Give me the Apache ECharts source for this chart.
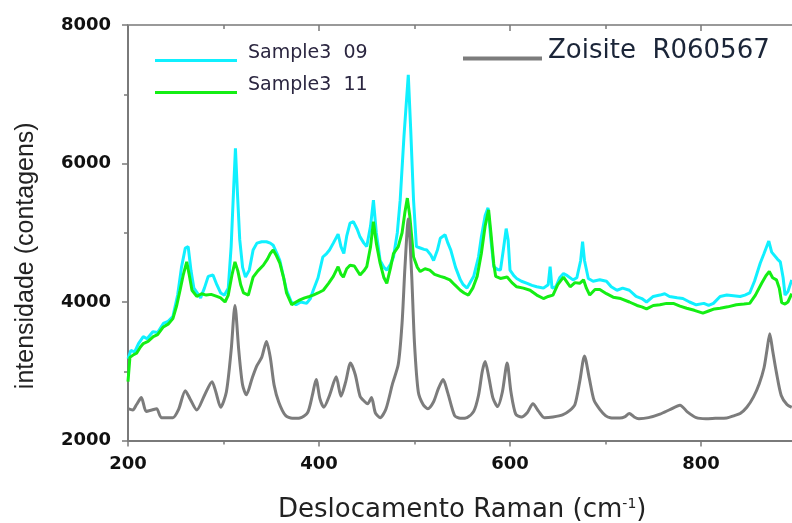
<!DOCTYPE html>
<html>
<head>
<meta charset="utf-8">
<script src="https://cdn.jsdelivr.net/npm/echarts@6/dist/echarts.min.js"></script>
<style>html,body{margin:0;padding:0;background:#fff;}#c{width:792px;height:523px;}</style>
</head>
<body>
<div id="c"></div>
<script>
var xTicks = [200, 400, 600, 800];
var yTicks = [2000, 4000, 6000, 8000];
var seriesNames = ['Sample3  09', 'Sample3  11', 'Zoisite  R060567'];

var sample09 = [[200,3180],[203,3300],[207,3280],[211,3400],[216,3500],[220,3470],[226,3570],[231,3560],[237,3690],[242,3720],[247,3790],[252,4100],[256,4500],[260,4780],[263,4800],[266,4450],[269,4200],[273,4120],[276,4060],[280,4200],[284,4370],[289,4390],[293,4250],[297,4130],[301,4100],[305,4200],[308,4800],[310.5,5600],[312.5,6220],[314.5,5600],[317,4900],[320,4500],[323,4360],[327,4460],[331,4750],[335,4850],[340,4870],[345,4870],[349,4850],[352,4820],[356,4700],[359,4600],[363,4350],[366,4170],[371,4000],[376,3960],[381,4000],[387,3980],[391,4050],[394,4170],[399,4350],[404,4650],[408,4700],[411,4750],[415,4850],[420,4980],[423,4800],[426,4700],[429,4950],[432.5,5140],[436,5160],[440,5050],[443,4940],[447,4850],[450,4800],[454,5100],[457,5470],[460,5000],[464,4600],[468,4500],[471,4460],[475,4550],[478,4650],[482,5000],[485,5470],[489,6400],[493.5,7280],[496,6500],[499,5470],[502,4800],[506,4780],[510,4760],[513,4750],[517,4680],[520,4600],[524,4750],[527,4920],[532,4970],[535,4850],[538,4750],[543,4500],[548,4320],[551,4250],[555,4200],[559,4300],[562,4370],[567,4650],[570,4940],[574,5250],[577,5360],[580,4900],[583,4510],[587,4470],[590,4460],[593,4750],[596,5060],[598,4900],[600,4460],[604,4380],[607,4340],[612,4300],[618,4270],[623,4240],[628,4220],[632,4210],[635,4200],[640,4250],[642,4510],[644,4200],[648,4220],[652,4350],[656,4410],[660,4380],[666,4320],[670,4350],[674,4600],[676,4870],[678,4600],[682,4340],[687,4300],[694,4320],[701,4300],[706,4220],[712,4170],[718,4200],[725,4170],[732,4080],[738,4050],[743,4000],[750,4080],[757,4100],[762,4120],[767,4080],[775,4060],[781,4050],[788,4000],[795,3960],[803,3980],[808,3950],[813,3980],[820,4080],[827,4100],[834,4090],[841,4080],[846,4100],[851,4130],[856,4300],[862,4560],[866,4700],[871,4880],[874,4720],[876,4700],[880,4620],[883,4580],[886,4350],[888,4100],[891,4150],[895,4320]];

var sample11 = [[200,2850],[202,3200],[206,3240],[209,3260],[213,3350],[216,3400],[221,3430],[226.5,3500],[231,3530],[237,3640],[242,3680],[247,3760],[251,3950],[254.5,4170],[258,4400],[261.5,4580],[264,4400],[267,4170],[272,4080],[277,4120],[282,4100],[287,4110],[293,4080],[297,4060],[301.6,4000],[305,4100],[309,4400],[312,4580],[315,4450],[318,4250],[321,4130],[326,4100],[331,4360],[336,4450],[341.7,4530],[346,4620],[349,4700],[352,4750],[355,4680],[359,4560],[363,4350],[366,4130],[371.4,3960],[376,4000],[380,4030],[385,4060],[390,4080],[394,4100],[399,4130],[404.5,4170],[410,4270],[415,4370],[420,4510],[423,4400],[425.5,4360],[429,4480],[432.5,4530],[437,4520],[443,4390],[447,4450],[450,4510],[454,4800],[457,5160],[460,4850],[464,4560],[468,4350],[471,4270],[475,4500],[478,4700],[483,4800],[487,5000],[490,5300],[492.5,5500],[495,5250],[499,4650],[503,4500],[506,4440],[511,4480],[516,4460],[521,4400],[527,4370],[532,4350],[537,4320],[542,4250],[548,4170],[552,4130],[556.5,4100],[561,4200],[565.6,4370],[570,4700],[574,5100],[577.6,5330],[580,5000],[583,4550],[585,4370],[590,4340],[597,4360],[602,4280],[607,4220],[614,4200],[621,4170],[628,4100],[635,4050],[640,4080],[645,4100],[650,4250],[656,4360],[660,4280],[663,4220],[668,4280],[673,4270],[677,4320],[680,4200],[683.5,4100],[689,4180],[694,4180],[701,4120],[708,4070],[716,4050],[725,4000],[733,3950],[738,3930],[743,3900],[750,3950],[757,3960],[764,3980],[771,3980],[778,3940],[785,3910],[793,3880],[802,3840],[808,3870],[814,3900],[820,3910],[828,3930],[837,3960],[845,3970],[851,3980],[857,4100],[863.5,4270],[868,4380],[871.5,4440],[875,4350],[879,4320],[882,4200],[884.5,3990],[888,3970],[891,4000],[895,4120]];

var zoisite = [[200,2460],[205,2440],[209,2520],[214,2620],[219,2420],[225,2440],[230,2460],[235,2330],[247,2330],[253,2450],[260,2720],[265,2600],[272,2440],[280,2650],[288,2850],[292,2700],[297,2480],[303,2700],[308,3300],[312,3950],[316,3300],[320,2800],[324,2660],[330,2900],[335,3080],[340,3200],[345,3430],[349,3200],[353,2800],[358,2550],[365,2360],[372,2320],[380,2325],[388,2400],[393,2650],[397,2880],[401,2600],[405,2480],[411,2650],[418,2920],[423,2640],[428,2850],[433,3120],[438,2950],[443,2640],[448,2560],[451,2530],[455,2620],[459,2400],[464,2330],[470,2450],[477,2820],[483,3100],[487,3700],[490,4500],[493.5,5200],[497,4400],[500,3400],[504,2700],[509,2520],[514,2460],[520,2560],[525,2750],[530,2880],[535,2680],[542,2360],[548,2320],[555,2330],[562,2420],[567,2650],[571,3000],[574,3140],[578,2900],[582,2620],[587,2490],[592,2700],[597,3120],[601,2700],[606,2380],[612,2340],[618,2400],[624,2530],[630,2420],[636,2330],[645,2340],[655,2370],[663,2440],[668,2520],[673,2850],[678,3220],[683,2900],[688,2580],[694,2450],[700,2360],[705,2330],[715,2325],[720,2340],[725,2390],[730,2340],[735,2315],[745,2330],[757,2380],[768,2450],[778,2510],[786,2410],[795,2330],[805,2315],[815,2320],[827,2325],[835,2360],[841,2390],[848,2480],[855,2630],[861,2820],[866,3050],[869,3300],[872,3540],[875,3300],[879,2980],[884,2650],[890,2520],[895,2480]];

var axisGray = '#7a7a7a';
var chart = echarts.init(document.getElementById('c'), null, {renderer: 'canvas'});
var tickLabelStyle = {fontFamily: 'DejaVu Sans', fontWeight: 'bold', fontSize: 18, color: '#111'};

chart.setOption({
  animation: false,
  backgroundColor: '#ffffff',
  grid: {left: 128, top: 25, width: 668.5, height: 415.5, containLabel: false, outerBoundsMode: 'none'},
  legend: [
    {
      data: [seriesNames[0], seriesNames[1]],
      orient: 'vertical', left: 155, top: 44, padding: 0,
      icon: 'rect', itemWidth: 82, itemHeight: 3, itemGap: -1,
      selectedMode: false,
      formatter: '{t|{name}}',
      textStyle: {fontFamily: 'DejaVu Sans', fontSize: 19, color: '#2b2640',
        rich: {t: {fontFamily: 'DejaVu Sans', fontSize: 19, lineHeight: 18, color: '#2b2640', padding: [0, 0, 14, 6]}}}
    },
    {
      data: [seriesNames[2]],
      orient: 'vertical', left: 463, top: 38, padding: 0,
      icon: 'rect', itemWidth: 79, itemHeight: 4,
      selectedMode: false,
      formatter: '{t|{name}}',
      textStyle: {fontFamily: 'DejaVu Sans', fontSize: 26, color: '#1b2538',
        rich: {t: {fontFamily: 'DejaVu Sans', fontSize: 26, lineHeight: 26, color: '#1b2538', padding: [0, 0, 15, 1]}}}
    }
  ],
  xAxis: [
    {
      type: 'value', position: 'bottom', min: 200, max: 900, interval: 200,
      name: 'Deslocamento Raman (cm{sup|-1})', nameLocation: 'middle', nameGap: 57,
      nameTextStyle: {fontFamily: 'DejaVu Sans', fontSize: 26, color: '#222',
        rich: {sup: {fontFamily: 'DejaVu Sans', fontSize: 14, color: '#222', verticalAlign: 'top', padding: [0, 0, 12, 0]}}},
      axisLine: {show: true, lineStyle: {color: axisGray, width: 2}},
      axisTick: {show: true, inside: false, length: 6, lineStyle: {color: axisGray, width: 1.5}},
      minorTick: {show: true, splitNumber: 2, length: 4, lineStyle: {color: axisGray, width: 1.5}},
      axisLabel: Object.assign({margin: 15, formatter: function (v) { return xTicks.indexOf(v) >= 0 ? String(v) : ''; }}, tickLabelStyle),
      splitLine: {show: false}
    },
    {
      type: 'value', position: 'top', min: 200, max: 900, interval: 200,
      axisLine: {show: true, lineStyle: {color: '#999', width: 2}},
      axisTick: {show: true, inside: true, length: 6, lineStyle: {color: axisGray, width: 1.5}},
      minorTick: {show: true, splitNumber: 2, length: 4, lineStyle: {color: axisGray, width: 1.5}},
      axisLabel: {show: false},
      splitLine: {show: false}
    }
  ],
  yAxis: [
    {
      type: 'value', min: 2000, max: 8000, interval: 2000,
      name: 'intensidade (contagens)', nameLocation: 'middle', nameGap: 89, nameRotate: 90,
      nameTextStyle: {fontFamily: 'Liberation Sans', fontSize: 25, color: '#222', padding: [0, 46, 0, 0]},
      axisLine: {show: true, lineStyle: {color: axisGray, width: 2}},
      axisTick: {show: true, inside: false, length: 6, lineStyle: {color: axisGray, width: 1.5}},
      minorTick: {show: true, splitNumber: 2, length: 4, lineStyle: {color: axisGray, width: 1.5}},
      axisLabel: Object.assign({margin: 17, formatter: function (v) { return yTicks.indexOf(v) >= 0 ? String(v) : ''; }}, tickLabelStyle),
      splitLine: {show: false}
    }
  ],
  series: [
    {name: seriesNames[0], type: 'line', data: sample09, showSymbol: false, symbol: 'none',
      lineStyle: {color: '#10f0ff', width: 3}, itemStyle: {color: '#10f0ff'}, z: 2},
    {name: seriesNames[1], type: 'line', data: sample11, showSymbol: false, symbol: 'none',
      lineStyle: {color: '#14ee14', width: 3}, itemStyle: {color: '#14ee14'}, z: 3},
    {name: seriesNames[2], type: 'line', data: zoisite, showSymbol: false, symbol: 'none', smooth: 0.25,
      lineStyle: {color: '#7c7c7c', width: 3}, itemStyle: {color: '#7c7c7c'}, z: 4}
  ]
});
</script>
</body>
</html>
